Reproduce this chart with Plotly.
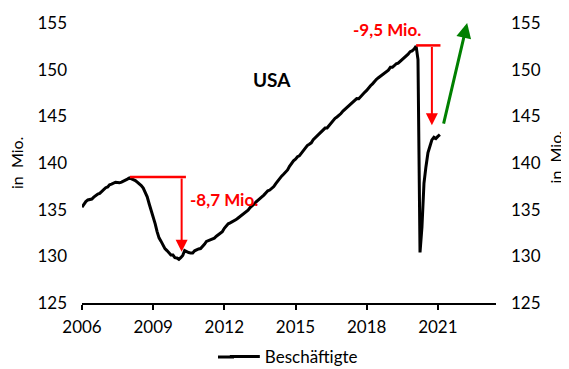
import pandas as pd
import plotly.graph_objects as go

# Monthly US employment (millions), Jan 2006 - Feb 2021
emp_2006 = [135.26, 135.58, 135.86, 136.04, 136.06, 136.14, 136.34, 136.51, 136.68, 136.74, 136.95, 137.11]
emp_2007 = [137.35, 137.44, 137.67, 137.73, 137.87, 137.94, 137.92, 137.88, 137.96, 138.04, 138.15, 138.27]
emp_2008 = [138.40, 138.32, 138.28, 138.12, 137.94, 137.77, 137.58, 137.31, 136.85, 136.37, 135.61, 134.98]
emp_2009 = [134.19, 133.48, 132.68, 131.98, 131.63, 131.16, 130.83, 130.62, 130.36, 130.15, 130.14, 129.86]
emp_2010 = [129.83, 129.68, 129.85, 130.10, 130.62, 130.49, 130.41, 130.35, 130.35, 130.59, 130.73, 130.79]
emp_2011 = [130.83, 131.05, 131.29, 131.59, 131.68, 131.76, 131.85, 131.95, 132.15, 132.33, 132.47, 132.63]
emp_2012 = [133.00, 133.26, 133.49, 133.58, 133.68, 133.79, 133.94, 134.11, 134.28, 134.43, 134.58, 134.84]
emp_2013 = [134.95, 135.23, 135.38, 135.58, 135.81, 135.98, 136.10, 136.37, 136.56, 136.78, 137.02, 137.10]
emp_2014 = [137.29, 137.48, 137.77, 138.08, 138.29, 138.59, 138.80, 139.04, 139.26, 139.64, 139.96, 140.23]
emp_2015 = [140.41, 140.67, 140.76, 141.05, 141.39, 141.58, 141.87, 142.01, 142.16, 142.49, 142.70, 142.98]
emp_2016 = [143.11, 143.35, 143.56, 143.74, 143.75, 144.01, 144.35, 144.54, 144.79, 144.93, 145.07, 145.30]
emp_2017 = [145.56, 145.75, 145.87, 146.09, 146.25, 146.49, 146.72, 146.90, 146.89, 147.15, 147.39, 147.58]
emp_2018 = [147.77, 148.10, 148.28, 148.48, 148.77, 148.96, 149.14, 149.30, 149.44, 149.59, 149.73, 149.95]
emp_2019 = [150.25, 150.25, 150.42, 150.63, 150.70, 150.88, 151.07, 151.28, 151.48, 151.66, 151.93, 152.01]
emp_2020 = [152.21, 152.52, 151.09, 130.42, 133.15, 137.81, 139.58, 141.08, 141.80, 142.48, 142.75, 142.62]
emp_2021 = [142.85, 143.04]

values = (emp_2006 + emp_2007 + emp_2008 + emp_2009 + emp_2010 + emp_2011 + emp_2012
          + emp_2013 + emp_2014 + emp_2015 + emp_2016 + emp_2017 + emp_2018 + emp_2019
          + emp_2020 + emp_2021)
months = pd.date_range("2006-01-01", periods=len(values), freq="MS")

tick_years = ["2006", "2009", "2012", "2015", "2018", "2021"]
y_ticks = [125, 130, 135, 140, 145, 150, 155]

FONT = "Lato, 'Open Sans', sans-serif"
RED = "#FF0000"
GREEN = "#008000"

fig = go.Figure()
fig.add_trace(go.Scatter(x=months, y=values, mode="lines", name="Beschäftigte",
                         line=dict(color="black", width=3)))
# invisible trace for secondary axis
fig.add_trace(go.Scatter(x=[months[0]], y=[None], yaxis="y2", showlegend=False,
                         hoverinfo="skip"))

# page body has an 8px margin, so the figure is shifted by 8px
L, T, R, B = 74, 15, 81, 74
PW = 569 - L - R
PH = 369 - T - B

fig.update_layout(
    width=569, height=369,
    margin=dict(l=L, r=R, t=T, b=B, autoexpand=False),
    paper_bgcolor="white", plot_bgcolor="white",
    font=dict(family=FONT, size=17, color="black"),
    showlegend=True,
    legend=dict(orientation="h", x=0.345, xanchor="left", y=-0.193, yanchor="middle",
                font=dict(size=17), bgcolor="rgba(0,0,0,0)"),
    xaxis=dict(type="date", range=["2006-01-01", "2023-06-15"], automargin=False,
               tickvals=[f"{y}-01-01" for y in tick_years], ticktext=tick_years,
               showline=True, linecolor="black", linewidth=1.5,
               ticks="outside", ticklen=5, tickcolor="black", tickwidth=1.5,
               ticklabelstandoff=3,
               showgrid=False, zeroline=False, tickfont=dict(size=17)),
    yaxis=dict(range=[125, 155], tickvals=y_ticks, showgrid=False, zeroline=False,
               automargin=False, showline=False, ticks="", tickfont=dict(size=17),
               ticklabelstandoff=14),
    yaxis2=dict(range=[125, 155], tickvals=y_ticks, overlaying="y", side="right",
                automargin=False, showgrid=False, zeroline=False, showline=False, ticks="",
                tickfont=dict(size=17), ticklabelstandoff=14),
)

# y axis titles
fig.add_annotation(x=(8 - L) / PW, y=0.5, xref="paper", yref="paper", text="in  Mio.",
                   textangle=-90, showarrow=False, xanchor="center", yanchor="middle",
                   font=dict(size=16, family=FONT))
fig.add_annotation(x=(547 - L) / PW, y=0.52, xref="paper", yref="paper", text="in  Mio.",
                   textangle=-90, showarrow=False, xanchor="center", yanchor="middle",
                   font=dict(size=16, family=FONT))

# longer legend line sample (legend swatch extension)
LEG_Y = -(349 - T - PH) / PH
fig.add_shape(type="line", xref="paper", yref="paper",
              x0=(210 - L) / PW, x1=(226 - L) / PW, y0=LEG_Y, y1=LEG_Y,
              line=dict(color="black", width=3))

# Red horizontal marker lines
fig.add_shape(type="line", xref="x", yref="y", x0="2008-01-10", x1="2010-05-20",
              y0=138.5, y1=138.5, line=dict(color=RED, width=2.5))
fig.add_shape(type="line", xref="x", yref="y", x0="2020-02-01", x1="2021-02-10",
              y0=152.6, y1=152.6, line=dict(color=RED, width=2.5))

# Red arrows
fig.add_annotation(x="2010-03-15", y=130.5, ax="2010-03-15", ay=138.5,
                   xref="x", yref="y", axref="x", ayref="y", text="",
                   showarrow=True, arrowhead=2, arrowsize=1.2, arrowwidth=2, arrowcolor=RED)
fig.add_annotation(x="2020-10-01", y=144.05, ax="2020-10-01", ay=152.6,
                   xref="x", yref="y", axref="x", ayref="y", text="",
                   showarrow=True, arrowhead=2, arrowsize=1.2, arrowwidth=2, arrowcolor=RED)
# Green arrow
fig.add_annotation(x="2022-03-28", y=155.0, ax="2021-03-25", ay=144.05,
                   xref="x", yref="y", axref="x", ayref="y", text="",
                   showarrow=True, arrowhead=2, arrowsize=1.0, arrowwidth=3, arrowcolor=GREEN)

# Texts
fig.add_annotation(x="2010-06-20", y=136.1, xref="x", yref="y", text="<b>-8,7 Mio.</b>",
                   showarrow=False, xanchor="left", yanchor="middle",
                   font=dict(color=RED, size=17, family=FONT))
fig.add_annotation(x="2018-11-10", y=154.3, xref="x", yref="y", text="<b>-9,5 Mio.</b>",
                   showarrow=False, xanchor="center", yanchor="middle",
                   font=dict(color=RED, size=17, family=FONT))
fig.add_annotation(x="2014-01-01", y=149.0, xref="x", yref="y", text="<b>USA</b>",
                   showarrow=False, xanchor="center", yanchor="middle",
                   font=dict(color="black", size=19, family=FONT))

fig.write_html("out.html")
